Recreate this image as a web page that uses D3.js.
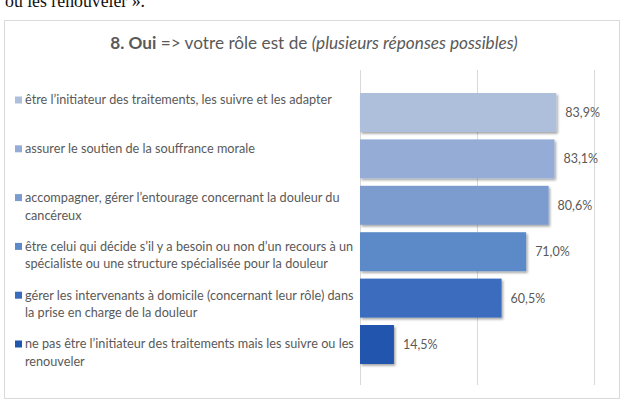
<!DOCTYPE html>
<html>
<head>
<meta charset="utf-8">
<script src="https://cdn.jsdelivr.net/npm/d3@7"></script>
<style>
  html, body { margin: 0; padding: 0; background: #fff; }
  svg { display: block; }
</style>
</head>
<body>
<svg id="chart" width="626" height="409"></svg>
<script>
// ---- data ----
const categories = [
  "être l’initiateur des traitements, les suivre et les adapter",
  "assurer le soutien de la souffrance morale",
  "accompagner, gérer l’entourage concernant la douleur du\ncancéreux",
  "être celui qui décide s’il y a besoin ou non d’un recours à un\nspécialiste ou une structure spécialisée pour la douleur",
  "gérer les intervenants à domicile (concernant leur rôle) dans\nla prise en charge de la douleur",
  "ne pas être l’initiateur des traitements mais les suivre ou les\nrenouveler"
];
const values = [0.839, 0.831, 0.806, 0.710, 0.605, 0.145];
const valueLabels = ["83,9%", "83,1%", "80,6%", "71,0%", "60,5%", "14,5%"];
const barColors = ["#aebfdc", "#95acd6", "#7b9ccf", "#5c89c8", "#3a6cbd", "#2156ae"];
const gridTicks = [0, 0.5, 1];
const titleParts = [
  {text: "8. Oui", weight: "bold", style: "normal"},
  {text: " => votre rôle est de ", weight: "normal", style: "normal"},
  {text: "(plusieurs réponses possibles)", weight: "normal", style: "italic"}
];
const topText = "ou les renouveler ».";

// ---- drawing ----
const svg = d3.select("#chart");
const font = "Lato, 'Open Sans', sans-serif";
const grey = "#595959";

const defs = svg.append("defs");
const f = defs.append("filter").attr("id", "shadow")
  .attr("x", "-5%").attr("y", "-20%").attr("width", "115%").attr("height", "150%");
f.append("feDropShadow").attr("dx", 1.5).attr("dy", 1.8)
  .attr("stdDeviation", 1.3).attr("flood-color", "#000").attr("flood-opacity", 0.35);

// clipped text from the page above
const tt = svg.append("text")
  .attr("x", 5).attr("y", 7)
  .attr("font-family", "'Liberation Serif', 'Times New Roman', serif")
  .attr("font-size", 19).attr("fill", "#111")
  .text(topText);
tt.attr("textLength", 140).attr("lengthAdjust", "spacingAndGlyphs");

// chart box
svg.append("rect")
  .attr("x", 4.5).attr("y", 20.5).attr("width", 615).attr("height", 378)
  .attr("fill", "#fff").attr("stroke", "#d9d9d9").attr("stroke-width", 1);

// title
const title = svg.append("text")
  .attr("x", 314).attr("y", 49)
  .attr("text-anchor", "middle")
  .attr("font-family", font).attr("font-size", 17).attr("fill", grey);
titleParts.forEach(p => {
  title.append("tspan").attr("font-weight", p.weight).attr("font-style", p.style).text(p.text);
});
{
  const len = title.node().getComputedTextLength();
  title.attr("font-size", 17 * 408 / len);
}

// scales
const x = d3.scaleLinear().domain([0, 1]).range([360, 594]);
const y = d3.scaleBand().domain(categories).range([89.3, 367.7])
  .paddingInner(0.16).paddingOuter(0.08);

// gridlines via axis
const gridAxis = d3.axisTop(x).tickValues(gridTicks).tickSize(-315).tickFormat("");
const g = svg.append("g").attr("transform", "translate(0,70)").call(gridAxis);
g.select(".domain").remove();
g.selectAll(".tick line").attr("stroke", "#d9d9d9").attr("stroke-width", 1);

// bars
svg.append("g").selectAll("rect").data(categories).join("rect")
  .attr("x", x(0))
  .attr("y", d => y(d))
  .attr("width", (d, i) => x(values[i]) - x(0))
  .attr("height", y.bandwidth())
  .attr("fill", (d, i) => barColors[i])
  .attr("filter", "url(#shadow)");

// value labels
svg.append("g").selectAll("text").data(categories).join("text")
  .attr("x", (d, i) => x(values[i]) + 9)
  .attr("y", d => y(d) + y.bandwidth() / 2 + 4.5)
  .attr("font-family", font).attr("font-size", 12.5).attr("fill", grey)
  .text((d, i) => valueLabels[i]);

// legend-style category labels
const legendY = d3.scalePoint().domain(categories).range([100, 344]);
const lineH = 17.5;
// measure font size from first label width
const probe = svg.append("text").attr("font-family", font).attr("font-size", 13).text(categories[0]);
const labelSize = 13 * 307 / probe.node().getComputedTextLength();
probe.remove();

const lg = svg.append("g").selectAll("g").data(categories).join("g")
  .attr("transform", d => `translate(0,${legendY(d)})`);
lg.append("rect")
  .attr("x", 15).attr("y", -3.5).attr("width", 7).attr("height", 7)
  .attr("fill", (d, i) => barColors[i]);
lg.append("text")
  .attr("font-family", font).attr("font-size", labelSize).attr("fill", grey)
  .each(function(d) {
    const t = d3.select(this);
    d.split("\n").forEach((line, k) => {
      t.append("tspan").attr("x", 25).attr("y", k * lineH + labelSize * 0.35).text(line);
    });
  });
</script>
</body>
</html>
